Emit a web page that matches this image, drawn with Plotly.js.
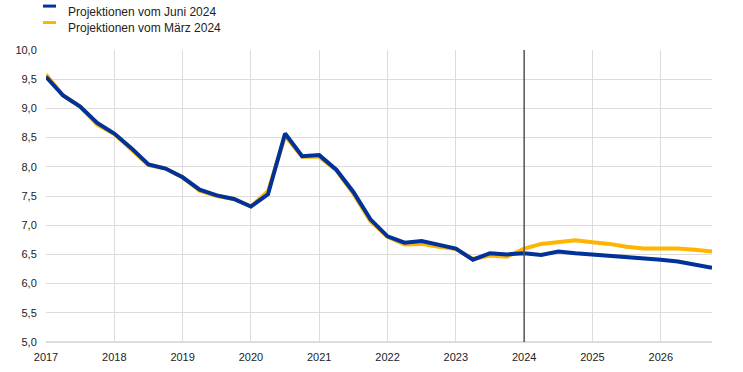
<!DOCTYPE html>
<html>
<head>
<meta charset="utf-8">
<script src="https://cdn.plot.ly/plotly-3.0.1.min.js"></script>
<style>html,body{margin:0;padding:0;background:#fff;}#chart{width:743px;height:372px;}</style>
</head>
<body>
<div id="chart"></div>
<script>
// Quarters 2017Q1 .. 2026Q4
var startYear = 2017;
var nQuarters = 40;
var quarters = [];
for (var i = 0; i < nQuarters; i++) {
  quarters.push((startYear + Math.floor(i / 4)) + "Q" + (i % 4 + 1));
}
function quarterToX(q) { return parseInt(q.slice(0, 4), 10) + (parseInt(q.slice(5), 10) - 1) * 0.25; }

var seriesNames = ["Projektionen vom Juni 2024", "Projektionen vom März 2024"];

var juni2024 = [
  9.54, 9.22, 9.03, 8.75,
  8.57, 8.32, 8.04, 7.97,
  7.82, 7.61, 7.51, 7.45,
  7.32, 7.53, 8.57, 8.18,
  8.20, 7.95, 7.57, 7.10,
  6.81, 6.70, 6.73, 6.66,
  6.60, 6.41, 6.52, 6.50,
  6.52, 6.49, 6.55, 6.52,
  6.50, 6.47, 6.46, 6.44,
  6.41, 6.38, 6.33, 6.27
];

var maerz2024 = [
  9.58, 9.22, 9.03, 8.72,
  8.56, 8.30, 8.03, 7.97,
  7.82, 7.59, 7.50, 7.45,
  7.32, 7.58, 8.53, 8.17,
  8.17, 7.94, 7.54, 7.07,
  6.80, 6.67, 6.68, 6.63,
  6.59, 6.42, 6.48, 6.46,
  6.60, 6.68, 6.71, 6.74,
  6.71, 6.68, 6.63, 6.60,
  6.60, 6.60, 6.58, 6.55
];

var colors = ["#003299", "#FFB400"];
var xTickVals = [2017, 2018, 2019, 2020, 2021, 2022, 2023, 2024, 2025, 2026];
var xTickText = ["2017", "2018", "2019", "2020", "2021", "2022", "2023", "2024", "2025", "2026"];
var yTickVals = [5.0, 5.5, 6.0, 6.5, 7.0, 7.5, 8.0, 8.5, 9.0, 9.5, 10.0];
var yTickText = ["5,0", "5,5", "6,0", "6,5", "7,0", "7,5", "8,0", "8,5", "9,0", "9,5", "10,0"];
var markerYear = 2024;

var xs = quarters.map(quarterToX);

var traces = [
  {x: xs, y: maerz2024, type: "scatter", mode: "lines", name: seriesNames[1],
   line: {color: colors[1], width: 4}, showlegend: false, hoverinfo: "skip"},
  {x: xs, y: juni2024, type: "scatter", mode: "lines", name: seriesNames[0],
   line: {color: colors[0], width: 4}, showlegend: false, hoverinfo: "skip"}
];

var L = 46, R = 31, T = 49.5, B = 30;
var W = 743, H = 372;
var pw = W - L - R, ph = H - T - B;
function px2x(p) { return (p - L) / pw; }
function py2y(p) { return (H - B - p) / ph; }

var layout = {
  width: W, height: H,
  margin: {l: L, r: R, t: T, b: B, pad: 0},
  paper_bgcolor: "#fff", plot_bgcolor: "#fff",
  font: {family: "Liberation Sans, Arial, sans-serif", size: 11, color: "#222"},
  showlegend: false,
  xaxis: {
    range: [2017, 2026.75], tickvals: xTickVals, ticktext: xTickText,
    showgrid: true, gridcolor: "#dcdcdc", gridwidth: 1,
    zeroline: false, showline: false, ticks: "outside", ticklen: 5, tickcolor: "rgba(0,0,0,0)",
    tickfont: {size: 11, color: "#222"}, fixedrange: true
  },
  yaxis: {
    range: [5.0, 10.0], tickvals: yTickVals, ticktext: yTickText,
    showgrid: true, gridcolor: "#dcdcdc", gridwidth: 1,
    zeroline: false, showline: false, ticks: "outside", ticklen: 6, tickcolor: "rgba(0,0,0,0)",
    tickfont: {size: 11, color: "#222"}, fixedrange: true
  },
  shapes: [
    {type: "line", xref: "x", yref: "paper", x0: markerYear, x1: markerYear, y0: 0, y1: 1,
     line: {color: "#555", width: 1.5}},
    {type: "line", xref: "paper", yref: "paper", x0: 0, x1: 1, y0: 0, y1: 0,
     line: {color: "#d0d0d0", width: 1.5}, layer: "below"},
    {type: "rect", xref: "paper", yref: "paper", x0: px2x(43), x1: px2x(56), y0: py2y(7), y1: py2y(4),
     fillcolor: colors[0], line: {width: 0}},
    {type: "rect", xref: "paper", yref: "paper", x0: px2x(43), x1: px2x(56), y0: py2y(23.5), y1: py2y(20.5),
     fillcolor: colors[1], line: {width: 0}}
  ],
  annotations: [
    {xref: "paper", yref: "paper", x: px2x(66), y: py2y(11), xanchor: "left", yanchor: "middle",
     text: seriesNames[0], showarrow: false, font: {size: 12, color: "#222"}},
    {xref: "paper", yref: "paper", x: px2x(66), y: py2y(27), xanchor: "left", yanchor: "middle",
     text: seriesNames[1], showarrow: false, font: {size: 12, color: "#222"}}
  ]
};

Plotly.newPlot("chart", traces, layout, {staticPlot: true, displayModeBar: false});
</script>
</body>
</html>
